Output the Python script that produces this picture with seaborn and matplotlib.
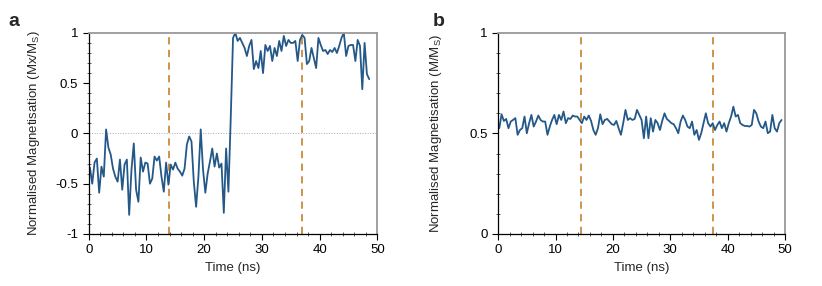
import matplotlib
matplotlib.use("Agg")
import matplotlib.pyplot as plt
import seaborn as sns
import numpy as np
import pandas as pd
from matplotlib.ticker import MultipleLocator

# magnetisation traces, one sample every 0.4 ns
mx_values = [
    -0.34, -0.50, -0.29, -0.25, -0.59, -0.33, -0.43, 0.04, -0.14, -0.21,
    -0.35, -0.43, -0.48, -0.26, -0.56, -0.31, -0.26, -0.81, -0.36, -0.10,
    -0.56, -0.68, -0.24, -0.38, -0.29, -0.30, -0.50, -0.45, -0.23, -0.27,
    -0.23, -0.43, -0.58, -0.29, -0.51, -0.31, -0.36, -0.29, -0.35, -0.38,
    -0.42, -0.35, -0.11, -0.03, -0.08, -0.48, -0.73, -0.43, 0.04, -0.36,
    -0.59, -0.40, -0.28, -0.15, -0.33, -0.20, -0.34, -0.30, -0.79, -0.15,
    -0.58, 0.15, 0.95, 1.00, 0.92, 0.95, 0.90, 0.85, 0.77, 0.87,
    0.93, 0.64, 0.72, 0.65, 0.82, 0.60, 0.88, 0.82, 0.87, 0.72,
    0.85, 0.77, 0.92, 0.82, 0.97, 0.87, 0.93, 0.90, 0.90, 0.92,
    0.72, 0.93, 0.98, 0.95, 0.69, 0.72, 0.85, 0.75, 0.65, 0.95,
    0.88, 0.82, 0.83, 0.79, 0.83, 0.81, 0.85, 0.80, 0.87, 0.95,
    1.00, 0.77, 0.87, 0.88, 0.88, 0.72, 0.93, 0.87, 0.44, 0.90,
    0.59, 0.54,
]
m_values = [
    0.526, 0.595, 0.562, 0.572, 0.526, 0.559, 0.567, 0.576, 0.493, 0.517,
    0.526, 0.584, 0.501, 0.551, 0.592, 0.534, 0.559, 0.589, 0.567, 0.559,
    0.559, 0.493, 0.534, 0.567, 0.592, 0.546, 0.592, 0.567, 0.609, 0.551,
    0.576, 0.572, 0.589, 0.584, 0.584, 0.567, 0.551, 0.584, 0.567, 0.589,
    0.562, 0.517, 0.493, 0.526, 0.595, 0.546, 0.567, 0.572, 0.559, 0.546,
    0.542, 0.562, 0.526, 0.493, 0.551, 0.617, 0.567, 0.576, 0.567, 0.572,
    0.617, 0.592, 0.567, 0.476, 0.584, 0.476, 0.576, 0.509, 0.567, 0.551,
    0.517, 0.562, 0.600, 0.572, 0.562, 0.551, 0.546, 0.526, 0.501, 0.559,
    0.589, 0.567, 0.534, 0.526, 0.559, 0.493, 0.517, 0.468, 0.501, 0.551,
    0.600, 0.551, 0.534, 0.551, 0.517, 0.542, 0.559, 0.526, 0.551, 0.509,
    0.551, 0.584, 0.633, 0.584, 0.592, 0.551, 0.542, 0.537, 0.537, 0.534,
    0.542, 0.617, 0.600, 0.559, 0.534, 0.526, 0.559, 0.501, 0.509, 0.592,
    0.526, 0.509, 0.551, 0.567,
]
dt = 0.4
t0 = 0.2
pulse_a = [13.9, 37.0]
pulse_b = [14.4, 37.5]

df_a = pd.DataFrame({"time": t0 + dt * np.arange(len(mx_values)), "m": mx_values})
df_b = pd.DataFrame({"time": t0 + dt * np.arange(len(m_values)), "m": m_values})

sns.set_style("ticks")
plt.rcParams["font.family"] = ["Liberation Sans", "DejaVu Sans"]
plt.rcParams["mathtext.default"] = "regular"
plt.rcParams["axes.unicode_minus"] = False

line_col = "#245888"
dash_col = "#C98A3C"

fig = plt.figure(figsize=(8.22, 2.86), dpi=100)
ax1 = fig.add_axes([0.108, 0.182, 0.351, 0.703])
ax2 = fig.add_axes([0.606, 0.182, 0.349, 0.703])


def style_axis(ax):
    for side in ["top", "right"]:
        ax.spines[side].set_color("#999999")
        ax.spines[side].set_linewidth(1.3)
    for side in ["left", "bottom"]:
        ax.spines[side].set_color("black")
        ax.spines[side].set_linewidth(0.9)
    ax.set_xlim(0, 50)
    ax.xaxis.set_major_locator(MultipleLocator(10))
    ax.xaxis.set_minor_locator(MultipleLocator(2))
    ax.yaxis.set_minor_locator(MultipleLocator(0.1))
    ax.tick_params(which="major", direction="out", length=4, width=0.8, labelsize=9.5, colors="black")
    ax.tick_params(which="minor", direction="inout", length=3, width=0.6, colors="#444444")
    ax.set_xlabel("Time (ns)", fontsize=9.5)


# panel a
ax1.axhline(0, color="#aaaaaa", lw=0.7, ls=":")
for p in pulse_a:
    ax1.axvline(p, color=dash_col, lw=1.3, ls=(0, (4, 3)))
sns.lineplot(data=df_a, x="time", y="m", ax=ax1, color=line_col, lw=1.3)
style_axis(ax1)
ax1.set_ylim(-1, 1)
ax1.set_yticks([-1, -0.5, 0, 0.5, 1])
ax1.set_yticklabels(["-1", "-0.5", "0", "0.5", "1"])
ax1.set_ylabel("Normalised Magnetisation (Mx/M$_S$)", fontsize=9.5, labelpad=10)

# panel b
for p in pulse_b:
    ax2.axvline(p, color=dash_col, lw=1.3, ls=(0, (4, 3)))
sns.lineplot(data=df_b, x="time", y="m", ax=ax2, color=line_col, lw=1.3)
style_axis(ax2)
ax2.set_ylim(0, 1)
ax2.set_yticks([0, 0.5, 1])
ax2.set_yticklabels(["0", "0.5", "1"])
ax2.set_ylabel("Normalised Magnetisation (M/M$_S$)", fontsize=9.5, labelpad=18)

fig.text(0.010, 0.955, "a", fontsize=14, fontweight="bold", va="top")
fig.text(0.527, 0.955, "b", fontsize=14, fontweight="bold", va="top")

fig.savefig("out.png", dpi=100)
